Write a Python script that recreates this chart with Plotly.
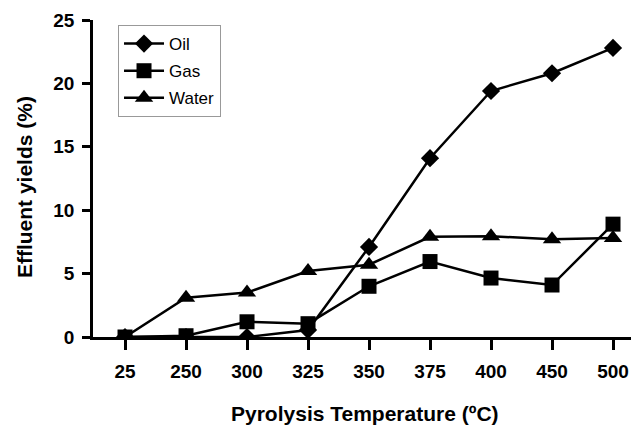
import plotly.graph_objects as go

temperatures = ["25", "250", "300", "325", "350", "375", "400", "450", "500"]
oil = [0, 0, 0, 0.55, 7.1, 14.1, 19.4, 20.8, 22.8]
gas = [0, 0.1, 1.2, 1.05, 4.0, 5.95, 4.65, 4.1, 8.9]
water = [0, 3.1, 3.5, 5.2, 5.7, 7.9, 7.95, 7.7, 7.8]

fig = go.Figure()
series = [("Oil", oil, "diamond", 14), ("Gas", gas, "square", 15), ("Water", water, "triangle-up", 16)]
for name, vals, sym, sz in series:
    fig.add_trace(go.Scatter(
        x=temperatures, y=vals, name=name, mode="lines+markers",
        legendgroup=name,
        line=dict(color="black", width=2.5),
        marker=dict(symbol=sym, size=sz, color="black"),
    ))

fig.update_layout(
    width=631, height=426,
    margin=dict(l=93, r=0, t=20, b=89),
    paper_bgcolor="white", plot_bgcolor="white",
    font=dict(family="Liberation Sans, Arial, sans-serif", color="black"),
    showlegend=True,
    legend=dict(
        x=0.0465, y=0.984, xanchor="left", yanchor="top",
        bgcolor="white", bordercolor="#999", borderwidth=1,
        font=dict(size=17, color="black"),
        tracegroupgap=2, itemsizing="trace", itemwidth=40,
    ),
    xaxis=dict(
        type="category", range=[-0.525, 8.295],
        showline=True, linecolor="black", linewidth=2.5,
        ticks="outside", ticklen=10, tickwidth=2.5, tickcolor="black",
        tickfont=dict(size=19, weight="bold"),
        ticklabelstandoff=5,
        showgrid=False, zeroline=False,
    ),
    yaxis=dict(
        range=[0, 25], tickvals=[0, 5, 10, 15, 20, 25],
        showline=True, linecolor="black", linewidth=2.5,
        ticks="outside", ticklen=8, tickwidth=2.5, tickcolor="black",
        tickfont=dict(size=19, weight="bold"),
        ticklabelstandoff=4,
        showgrid=False, zeroline=False,
    ),
    annotations=[
        dict(text="Effluent yields (%)", xref="paper", yref="paper",
             x=0, xshift=-69, y=0.473, xanchor="center", yanchor="middle",
             textangle=-90, showarrow=False,
             font=dict(size=21, weight="bold", color="black")),
        dict(text="Pyrolysis Temperature (ºC)", xref="paper", yref="paper",
             x=0.506, y=-0.24, xanchor="center", yanchor="middle",
             showarrow=False,
             font=dict(size=21, weight="bold", color="black")),
    ],
)

fig.write_html(
    "out.html",
    config={"displayModeBar": False},
    post_script="document.body.style.margin='0';document.body.style.overflow='hidden';",
)
